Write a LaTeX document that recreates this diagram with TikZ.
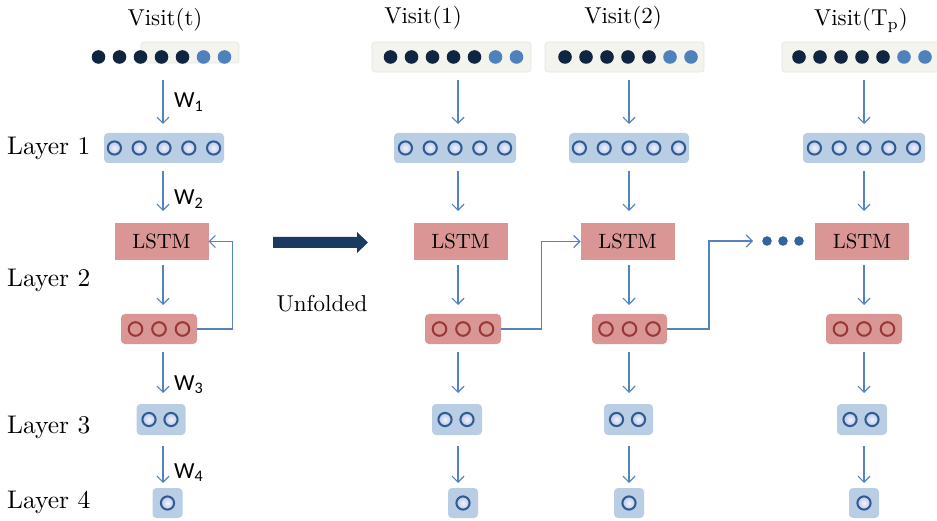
\documentclass[tikz,border=0pt]{standalone}
\usepackage{fontspec}
\newfontfamily\wfont{Carlito}
\usetikzlibrary{arrows.meta}
\definecolor{navy}{HTML}{10253F}
\definecolor{lightdot}{HTML}{4F81BD}
\definecolor{inbg}{HTML}{F4F4EF}
\definecolor{inbd}{HTML}{E4E4DC}
\definecolor{boxblue}{HTML}{B9CDE5}
\definecolor{circblue}{HTML}{2F5B8E}
\definecolor{circin}{HTML}{B9C7EC}
\definecolor{circcore}{HTML}{F0F3FB}
\definecolor{boxred}{HTML}{D99694}
\definecolor{circred}{HTML}{973836}
\definecolor{arrblue}{HTML}{5484BE}
\definecolor{bigarrow}{HTML}{1B3A62}
\definecolor{dotblue}{HTML}{33639E}
\newcommand\sbx[2]{\scalebox{#1}{\fontsize{10}{12}\selectfont #2}}
\begin{document}
\begin{tikzpicture}[x=1pt,y=-1pt,
  inbox/.style={fill=inbg,draw=inbd,line width=0.6pt,rounded corners=3pt,inner sep=0pt,outer sep=0pt,minimum height=30pt},
  ghost/.style={inner sep=0pt,outer sep=0pt,minimum height=30pt},
  bbox/.style={fill=boxblue,rounded corners=4pt,inner sep=0pt,outer sep=0pt},
  rbox/.style={fill=boxred,rounded corners=4pt,inner sep=0pt,outer sep=0pt,minimum height=30pt},
  lstmbox/.style={fill=boxred,inner sep=0pt,outer sep=0pt,minimum width=94pt,minimum height=37pt},
  darkdot/.style={fill=navy},
  litedot/.style={fill=lightdot},
  bcirc/.style={draw=circblue,line width=2pt,inner color=circcore,outer color=circin},
  rcirc/.style={draw=circred,line width=2pt},
  conn/.style={draw=arrblue,line width=1.2pt,-{Straight Barb[length=6pt,width=12pt]}},
  a1/.style={conn,shorten <=8pt,shorten >=9pt},
  a2/.style={conn,shorten <=8pt,shorten >=12pt},
  a3/.style={conn,shorten <=5pt,shorten >=9pt},
  a4/.style={conn,shorten <=8pt,shorten >=11pt},
  a5/.style={conn,shorten <=11pt,shorten >=5pt},
  layerlbl/.style={anchor=base west,inner sep=0pt},
  visitlbl/.style={anchor=base,inner sep=0pt},
  wlbl/.style={anchor=base west,inner sep=0pt,font=\wfont\fontsize{23}{26}\selectfont}
]
\useasboundingbox (0,0) rectangle (937,521);

% column axes
\coordinate (c0) at (163,0);
\coordinate (c1) at (458,0);
\coordinate (c2) at (629,0);
\coordinate (c3) at (864,0);

% ---------- labels ----------
\node[layerlbl] (lay1) at (7,155) {\sbx{2.55}{Layer 1}};
\node[layerlbl] (lay2) at (7,287) {\sbx{2.55}{Layer 2}};
\node[layerlbl] (lay3) at (7,433) {\sbx{2.55}{Layer 3}};
\node[layerlbl] (lay4) at (7,508) {\sbx{2.55}{Layer 4}};

\node[visitlbl] (v0) at (165,26) {\sbx{2.3}{Visit(t)}};
\node[visitlbl] (v1) at (423,24) {\sbx{2.3}{Visit(1)}};
\node[visitlbl] (v2) at (623,24) {\sbx{2.3}{Visit(2)}};
\node[visitlbl] (v3) at (861,26) {\sbx{2.3}{Visit(T\textsubscript{p})}};

\node[wlbl] (w1) at (174,108) {W\textsubscript{1}};
\node[wlbl] (w2) at (174,205) {W\textsubscript{2}};
\node[wlbl] (w3) at (174,390) {W\textsubscript{3}};
\node[wlbl] (w4) at (174,478) {W\textsubscript{4}};

\node[visitlbl] (unf) at (322,312) {\sbx{2.3}{Unfolded}};

% big arrow
\fill[bigarrow] (273,237) -- (357,237) -- (357,232) -- (368,242.5) -- (357,253) -- (357,248) -- (273,248) -- cycle;

% ---------- input rows ----------
\fill[inbg,draw=inbd,line width=0.6pt,rounded corners=3pt] (141,42) rectangle (239,63);
\node[ghost,minimum width=146pt] (in0) at (161.5,57) {};
\node[inbox,minimum width=159pt] (in1) at (451.5,57) {};
\node[inbox,minimum width=159pt] (in2) at (624.5,57) {};
\node[inbox,minimum width=160pt] (in3) at (862,57) {};
\foreach \n/\cx in {in0/161.5,in1/453.5,in2/628,in3/862}{
  \foreach \k in {-3,...,1}
    \fill[darkdot] (\cx+\k*21,57) circle (6.8);
  \foreach \k in {2,3}
    \fill[litedot] (\cx+\k*21,57) circle (6.8);
}

% ---------- layer 1 ----------
\node[bbox,minimum width=120pt,minimum height=30pt] (l10) at (164,148) {};
\node[bbox,minimum width=122pt,minimum height=30pt] (l11) at (455,148) {};
\node[bbox,minimum width=120pt,minimum height=30pt] (l12) at (629,148) {};
\node[bbox,minimum width=122pt,minimum height=30pt] (l13) at (864,148) {};
\foreach \n in {l10,l11,l12,l13}
  \foreach \k in {-2,...,2}
    \shadedraw[bcirc] ([xshift=\k*24.8pt]\n.center) circle (6.6);

% ---------- LSTM ----------
\node[lstmbox] (lstm0) at (161.5,241.5) {\sbx{2.07}{LSTM}};
\node[lstmbox] (lstm1) at (460.5,241.5) {\sbx{2.07}{LSTM}};
\node[lstmbox] (lstm2) at (627.5,241.5) {\sbx{2.07}{LSTM}};
\node[lstmbox] (lstm3) at (862,241.5) {\sbx{2.07}{LSTM}};

% ---------- red hidden ----------
\node[rbox,minimum width=76pt] (r0) at (159,329) {};
\node[rbox,minimum width=76pt] (r1) at (463,329) {};
\node[rbox,minimum width=75pt] (r2) at (629.5,329) {};
\node[rbox,minimum width=76pt] (r3) at (864,329) {};
\foreach \n in {r0,r1,r2,r3}
  \foreach \k in {-1,0,1}
    \draw[rcirc] ([xshift=\k*23.5pt]\n.center) circle (6.8);

% ---------- layer 3 ----------
\node[bbox,minimum width=49pt,minimum height=31pt] (l30) at (161,419.5) {};
\node[bbox,minimum width=50pt,minimum height=31pt] (l31) at (457,419.5) {};
\node[bbox,minimum width=49pt,minimum height=31pt] (l32) at (628.5,419.5) {};
\node[bbox,minimum width=50pt,minimum height=31pt] (l33) at (862,419.5) {};
\foreach \n in {l30,l31,l32,l33}
  \foreach \k in {-0.5,0.5}
    \shadedraw[bcirc] ([xshift=\k*22pt-1pt]\n.center) circle (6.6);

% ---------- layer 4 ----------
\node[bbox,minimum width=30pt,minimum height=30pt] (l40) at (167.5,503) {};
\node[bbox,minimum width=30pt,minimum height=30pt] (l41) at (463,503) {};
\node[bbox,minimum width=30pt,minimum height=30pt] (l42) at (629,503) {};
\node[bbox,minimum width=30pt,minimum height=30pt] (l43) at (864,503) {};
\foreach \n in {l40,l41,l42,l43}
  \shadedraw[bcirc] (\n.center) circle (6.6);

% ---------- ellipsis ----------
\node[inner sep=0pt,outer sep=0pt,minimum width=44pt,minimum height=10pt] (dd) at (783,241) {};
\foreach \k in {-1,0,1}
  \fill[dotblue] ([xshift=\k*16pt]dd.center) circle (4.8);

% ---------- vertical connectors ----------
\foreach \i in {0,1,2,3}{
  \draw[a1] (in\i.south -| c\i) -- (l1\i.north -| c\i);
  \draw[a2] (l1\i.south -| c\i) -- (lstm\i.north -| c\i);
  \draw[a3] (lstm\i.south -| c\i) -- (r\i.north -| c\i);
  \draw[a4] (r\i.south -| c\i) -- (l3\i.north -| c\i);
  \draw[a5] (l3\i.south -| c\i) -- (l4\i.north -| c\i);
}

% ---------- recurrent connectors ----------
\draw[conn] (r0.east) -| ([xshift=24pt]lstm0.east) -- (lstm0.east);
\draw[conn] (r1.east) -| ([xshift=-39pt]lstm2.west) -- (lstm2.west);
\draw[conn] (r2.east) -| ([xshift=-52pt]dd.west) -- ([xshift=-8pt]dd.west);
\end{tikzpicture}
\end{document}
